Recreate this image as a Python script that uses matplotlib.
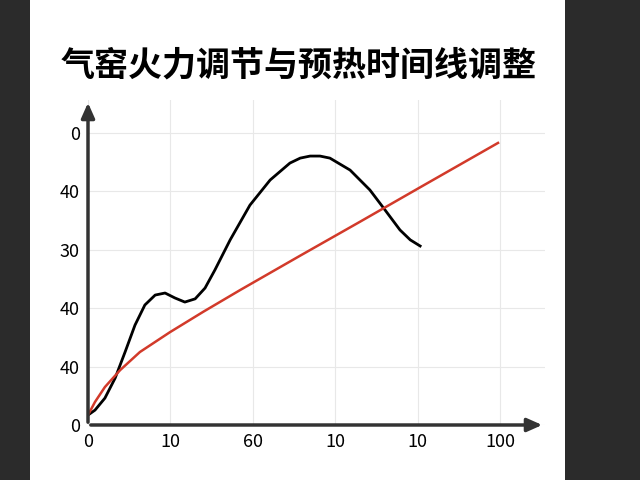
import matplotlib.pyplot as plt
from matplotlib.patches import Rectangle

plt.rcParams['font.family'] = ['Noto Sans CJK SC', 'DejaVu Sans']

title = "气窑火力调节与预热时间线调整"
x_ticks = [0, 20, 40, 60, 80, 100]
x_labels = ["0", "10", "60", "10", "10", "100"]
y_ticks = [0, 20, 40, 60, 80, 100]
y_labels = ["0", "40", "40", "30", "40", "0"]

black_x = [0, 1.7, 4.1, 6.6, 9.0, 11.4, 13.8, 16.3, 18.7, 21.1, 23.5, 26.0, 28.4,
           30.8, 34.5, 39.3, 44.2, 49.0, 51.5, 53.9, 56.3, 58.7, 63.6, 68.4, 72.1,
           75.7, 78.2, 80.6]
black_y = [3.4, 5.1, 9.2, 16.1, 25.0, 34.2, 41.1, 44.5, 45.2, 43.5, 42.1, 43.2, 46.9,
           53.1, 63.4, 75.3, 83.9, 89.7, 91.4, 92.1, 92.1, 91.4, 87.3, 80.5, 73.6,
           66.8, 63.4, 61.3]
red_x = [0, 1.7, 4.1, 7.8, 12.6, 19.9, 28.0, 36.9, 51.5, 66.0, 80.6, 99.5]
red_y = [3.4, 7.9, 13.0, 18.8, 25.0, 31.8, 38.8, 46.2, 58.0, 69.6, 81.4, 96.6]

fig = plt.figure(figsize=(6.4, 4.8), dpi=100)
fig.patch.set_facecolor('#2b2b2b')
fig.patches.append(Rectangle((30 / 640, 0), 535 / 640, 1, transform=fig.transFigure,
                             facecolor='white', edgecolor='none', zorder=-10))
fig.text(0.466, 0.865, title, ha='center', va='center', fontsize=24.5, fontweight='bold', zorder=5)

ax = fig.add_axes([88 / 640, 55 / 480, 457 / 640, 325 / 480], zorder=5)
ax.patch.set_alpha(0)
ax.set_xlim(0, 110.9)
ax.set_ylim(0, 111.3)
for s in ax.spines.values():
    s.set_visible(False)

ax.annotate('', xy=(110.9, 0), xytext=(0, 0), annotation_clip=False,
            arrowprops=dict(arrowstyle='-|>,head_width=0.4,head_length=0.9', color='#333', lw=2.5))
ax.annotate('', xy=(0, 111.3), xytext=(0, 0), annotation_clip=False,
            arrowprops=dict(arrowstyle='-|>,head_width=0.4,head_length=0.9', color='#333', lw=2.5))

ax.set_xticks(x_ticks, x_labels, fontsize=13)
ax.set_yticks(y_ticks, y_labels, fontsize=13)
ax.tick_params(length=0, pad=6)
ax.grid(True, color='#e8e8e8', lw=0.8)

ax.plot(black_x, black_y, color='black', lw=2, solid_joinstyle='round')
ax.plot(red_x, red_y, color='#d23a2a', lw=1.8)

fig.savefig('out.png', dpi=100, facecolor=fig.get_facecolor())
